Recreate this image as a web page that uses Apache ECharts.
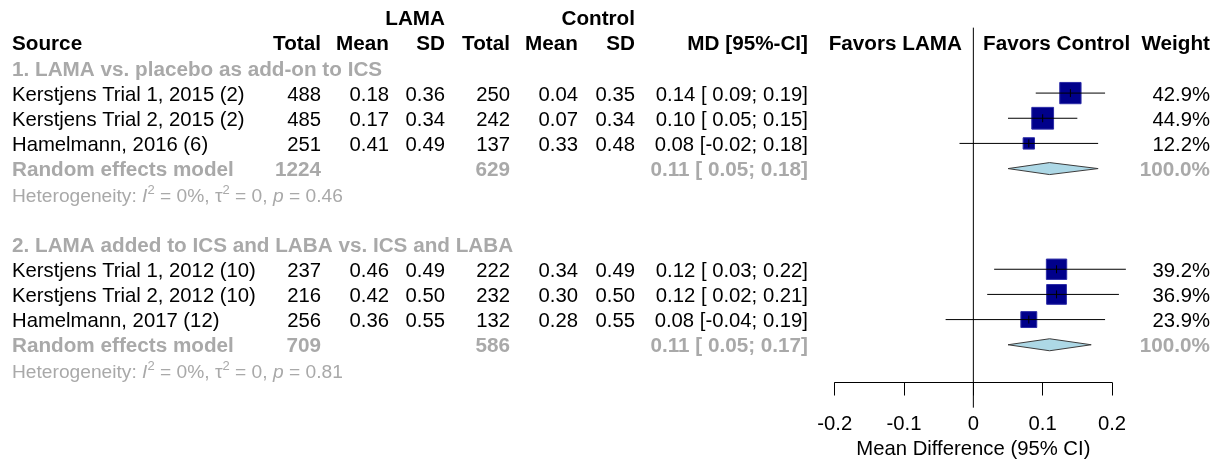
<!DOCTYPE html>
<html>
<head>
<meta charset="utf-8">
<script src="https://cdn.jsdelivr.net/npm/echarts@6/dist/echarts.min.js"></script>
<style>
  html, body { margin: 0; padding: 0; background: #ffffff; }
  #chart { width: 1219px; height: 460px; }
</style>
</head>
<body>
<div id="chart"></div>
<script>
// ---- data -------------------------------------------------------------
const groupTitles = [
  '1. LAMA vs. placebo as add-on to ICS',
  '2. LAMA added to ICS and LABA vs. ICS and LABA'
];
const studyNames = [
  ['Kerstjens Trial 1, 2015 (2)', 'Kerstjens Trial 2, 2015 (2)', 'Hamelmann, 2016 (6)'],
  ['Kerstjens Trial 1, 2012 (10)', 'Kerstjens Trial 2, 2012 (10)', 'Hamelmann, 2017 (12)']
];
const lamaTotal = [[488, 485, 251], [237, 216, 256]];
const lamaMean  = [[0.18, 0.17, 0.41], [0.46, 0.42, 0.36]];
const lamaSD    = [[0.36, 0.34, 0.49], [0.49, 0.50, 0.55]];
const ctrlTotal = [[250, 242, 137], [222, 232, 132]];
const ctrlMean  = [[0.04, 0.07, 0.33], [0.34, 0.30, 0.28]];
const ctrlSD    = [[0.35, 0.34, 0.48], [0.49, 0.50, 0.55]];
const mdValue   = [[0.14, 0.10, 0.08], [0.12, 0.12, 0.08]];
const mdLower   = [[0.09, 0.05, -0.02], [0.03, 0.02, -0.04]];
const mdUpper   = [[0.19, 0.15, 0.18], [0.22, 0.21, 0.19]];
const weightPct = [[42.9, 44.9, 12.2], [39.2, 36.9, 23.9]];

const pooledLamaTotal = [1224, 709];
const pooledCtrlTotal = [629, 586];
const pooledMD    = [0.11, 0.11];
const pooledLower = [0.05, 0.05];
const pooledUpper = [0.18, 0.17];
const pooledWeight = [100.0, 100.0];
const hetI2   = ['0%', '0%'];
const hetTau2 = ['0', '0'];
const hetP    = ['0.46', '0.81'];

const xTicks = [-0.2, -0.1, 0, 0.1, 0.2];
const xAxisTitle = 'Mean Difference (95% CI)';

// ---- layout -----------------------------------------------------------
const FONT = '"Liberation Sans", Arial, Helvetica, sans-serif';
const FS = 20.3;
const FS_BOLD = 20.7;
const TEXT_DY = 2;
const BLACK = '#000000';
const GREY = '#a9a9a9';
const col = {
  source: 12, lamaTotal: 321, lamaMean: 389, lamaSD: 445,
  ctrlTotal: 510, ctrlMean: 578, ctrlSD: 635, md: 808,
  favL: 962, favR: 983, weight: 1210
};

const f2 = v => v.toFixed(2);
const ciText = (m, lo, hi) =>
  f2(m) + ' [' + (lo < 0 ? '' : ' ') + f2(lo) + '; ' + f2(hi) + ']';

function cell(text, x, align, opts) {
  return Object.assign({ text: String(text), x: x, align: align, bold: false, color: BLACK }, opts || {});
}

// table rows: row index on the y scale plus the cells drawn on it
const tableRows = [];
tableRows.push({ row: -1, cells: [
  cell('LAMA', col.lamaSD, 'right', { bold: true }),
  cell('Control', col.ctrlSD, 'right', { bold: true })
]});
tableRows.push({ row: 0, cells: [
  cell('Source', col.source, 'left', { bold: true }),
  cell('Total', col.lamaTotal, 'right', { bold: true }),
  cell('Mean', col.lamaMean, 'right', { bold: true }),
  cell('SD', col.lamaSD, 'right', { bold: true }),
  cell('Total', col.ctrlTotal, 'right', { bold: true }),
  cell('Mean', col.ctrlMean, 'right', { bold: true }),
  cell('SD', col.ctrlSD, 'right', { bold: true }),
  cell('MD [95%-CI]', col.md, 'right', { bold: true }),
  cell('Favors LAMA', col.favL, 'right', { bold: true }),
  cell('Favors Control', col.favR, 'left', { bold: true }),
  cell('Weight', col.weight, 'right', { bold: true })
]});

const studyMarks = [];
const pooledMarks = [];
groupTitles.forEach((title, g) => {
  const start = 1 + g * 7;
  tableRows.push({ row: start, cells: [cell(title, col.source, 'left', { bold: true, color: GREY })] });
  studyNames[g].forEach((name, i) => {
    const r = start + 1 + i;
    tableRows.push({ row: r, cells: [
      cell(name, col.source, 'left'),
      cell(lamaTotal[g][i], col.lamaTotal, 'right'),
      cell(f2(lamaMean[g][i]), col.lamaMean, 'right'),
      cell(f2(lamaSD[g][i]), col.lamaSD, 'right'),
      cell(ctrlTotal[g][i], col.ctrlTotal, 'right'),
      cell(f2(ctrlMean[g][i]), col.ctrlMean, 'right'),
      cell(f2(ctrlSD[g][i]), col.ctrlSD, 'right'),
      cell(ciText(mdValue[g][i], mdLower[g][i], mdUpper[g][i]), col.md, 'right'),
      cell(weightPct[g][i].toFixed(1) + '%', col.weight, 'right')
    ]});
    studyMarks.push([mdValue[g][i], mdLower[g][i], mdUpper[g][i], r, weightPct[g][i]]);
  });
  const rp = start + 4;
  tableRows.push({ row: rp, cells: [
    cell('Random effects model', col.source, 'left', { bold: true, color: GREY }),
    cell(pooledLamaTotal[g], col.lamaTotal, 'right', { bold: true, color: GREY }),
    cell(pooledCtrlTotal[g], col.ctrlTotal, 'right', { bold: true, color: GREY }),
    cell(ciText(pooledMD[g], pooledLower[g], pooledUpper[g]), col.md, 'right', { bold: true, color: GREY }),
    cell(pooledWeight[g].toFixed(1) + '%', col.weight, 'right', { bold: true, color: GREY })
  ]});
  pooledMarks.push([pooledMD[g], pooledLower[g], pooledUpper[g], rp]);
  tableRows.push({ row: start + 5, cells: [
    cell('Heterogeneity: {it|I}{sup|2} = ' + hetI2[g] + ', \u03c4{sup|2} = ' + hetTau2[g] +
         ', {it|p} = ' + hetP[g], col.source, 'left', { color: GREY, rich: true, size: 19.2, dy: 1 })
  ]});
});

// ---- chart ------------------------------------------------------------
const chart = echarts.init(document.getElementById('chart'), null, { renderer: 'canvas' });

function renderTable(params, api) {
  const r = tableRows[params.dataIndex];
  const y = api.coord([0, r.row])[1] + TEXT_DY;
  return {
    type: 'group',
    children: r.cells.map(c => {
      const size = c.size || (c.bold ? FS_BOLD : FS);
      const style = {
        text: c.text, x: c.x, y: y + (c.dy || 0),
        fill: c.color,
        fontFamily: FONT, fontSize: size,
        fontWeight: c.bold ? 'bold' : 'normal',
        align: c.align, verticalAlign: 'middle',
        textAlign: c.align, textVerticalAlign: 'middle'
      };
      if (c.rich) {
        style.lineHeight = 26;
        style.rich = {
          it: { fontStyle: 'italic', fontFamily: FONT, fontSize: size, lineHeight: 26, fill: c.color, color: c.color },
          sup: { fontFamily: FONT, fontSize: 13, lineHeight: 14, verticalAlign: 'top', fill: c.color, color: c.color }
        };
      }
      return { type: 'text', silent: true, style: style };
    })
  };
}

function renderStudy(params, api) {
  const md = api.value(0), lo = api.value(1), hi = api.value(2), row = api.value(3), w = api.value(4);
  const p = api.coord([md, row]);
  const pl = api.coord([lo, row]);
  const ph = api.coord([hi, row]);
  const s = 3.25 * Math.sqrt(w);
  return {
    type: 'group',
    children: [
      { type: 'rect', shape: { x: p[0] - s / 2, y: p[1] - s / 2, width: s, height: s },
        style: { fill: '#00008b', stroke: '#2b2ba6', lineWidth: 1 } },
      { type: 'line', shape: { x1: pl[0], y1: p[1], x2: ph[0], y2: p[1] },
        style: { stroke: '#000000', lineWidth: 1 } },
      { type: 'line', shape: { x1: p[0], y1: p[1] - 4, x2: p[0], y2: p[1] + 4 },
        style: { stroke: '#000000', lineWidth: 1 } }
    ]
  };
}

function renderPooled(params, api) {
  const md = api.value(0), lo = api.value(1), hi = api.value(2), row = api.value(3);
  const p = api.coord([md, row]);
  const pl = api.coord([lo, row]);
  const ph = api.coord([hi, row]);
  const h = 6;
  return {
    type: 'polygon',
    shape: { points: [[pl[0], p[1]], [p[0], p[1] - h], [ph[0], p[1]], [p[0], p[1] + h]] },
    style: { fill: '#add8e6', stroke: '#3c3c3c', lineWidth: 1 }
  };
}

function renderZeroLine(params, api) {
  const a = api.coord([api.value(0), api.value(1)]);
  const b = api.coord([api.value(0), api.value(2)]);
  return { type: 'line', shape: { x1: a[0], y1: a[1], x2: b[0], y2: b[1] },
           style: { stroke: '#000000', lineWidth: 1 } };
}

const option = {
  backgroundColor: '#ffffff',
  animation: false,
  grid: { left: 834.7, width: 277.3, top: 5, height: 377.5, containLabel: false, outerBoundsMode: 'none' },
  xAxis: {
    type: 'value',
    min: xTicks[0], max: xTicks[xTicks.length - 1], interval: 0.1,
    splitLine: { show: false },
    axisLine: { show: true, onZero: false, lineStyle: { color: '#000000', width: 1 } },
    axisTick: { show: true, inside: false, length: 13, lineStyle: { color: '#000000', width: 1 } },
    axisLabel: {
      show: true, margin: 32, color: '#000000', fontFamily: FONT, fontSize: FS,
      showMinLabel: true, showMaxLabel: true,
      formatter: v => { const r = Math.round(v * 10) / 10; return r === 0 ? '0' : r.toFixed(1); }
    },
    name: xAxisTitle, nameLocation: 'middle', nameGap: 55,
    nameTextStyle: { color: '#000000', fontFamily: FONT, fontSize: FS }
  },
  yAxis: {
    type: 'value', min: -1.5, max: 13.5, inverse: true, show: false
  },
  series: [
    { type: 'custom', name: 'zero', clip: false, silent: true,
      data: [[0, -0.6, 14.5]], encode: { x: 0, y: 1 }, renderItem: renderZeroLine, z: 1 },
    { type: 'custom', name: 'studies', clip: false, silent: true,
      data: studyMarks, encode: { x: 0, y: 3 }, renderItem: renderStudy, z: 3 },
    { type: 'custom', name: 'pooled', clip: false, silent: true,
      data: pooledMarks, encode: { x: 0, y: 3 }, renderItem: renderPooled, z: 3 },
    { type: 'custom', name: 'table', clip: false, silent: true,
      data: tableRows.map(r => [0, r.row]), encode: { x: 0, y: 1 }, renderItem: renderTable, z: 4 }
  ]
};
chart.setOption(option);
</script>
</body>
</html>
